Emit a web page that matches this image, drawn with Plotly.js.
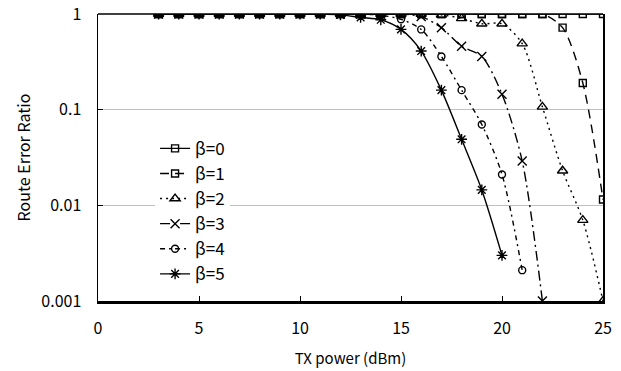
<!DOCTYPE html>
<html>
<head>
<meta charset="utf-8">
<script src="https://cdn.plot.ly/plotly-3.0.1.min.js"></script>
<style>html,body{margin:0;padding:0;background:#fff;}#chart{width:621px;height:371px;}</style>
</head>
<body>
<div id="chart"></div>
<script>
const txPower = [3,4,5,6,7,8,9,10,11,12,13,14,15,16,17,18,19,20,21,22,23,24,25];
const beta0 = [1,1,1,1,1,1,1,1,1,1,1,1,1,1,1,1,1,1,1,1,1,1,1];
const beta1 = [1,1,1,1,1,1,1,1,1,1,1,1,1,1,1,1,1,1,1,1,0.72,0.19,0.0115];
const beta2 = [1,1,1,1,1,1,1,1,1,1,1,1,1,1,0.98,0.9,0.79,0.79,0.49,0.107,0.023,0.007,0.001];
const beta3 = [1,1,1,1,1,1,1,1,1,1,1,1,1,0.94,0.72,0.46,0.36,0.145,0.029,0.001];
const beta4 = [1,1,1,1,1,1,1,1,1,1,1,0.97,0.88,0.69,0.36,0.16,0.07,0.021,0.0021];
const beta5 = [1,1,1,1,1,1,1,1,1,0.98,0.92,0.87,0.69,0.41,0.16,0.049,0.0145,0.003];
const seriesNames = ['β=0','β=1','β=2','β=3','β=4','β=5'];
const yTickVals = [0.001,0.01,0.1,1];
const yTickText = ['0.001','0.01','0.1','1'];
const xTickVals = [0,5,10,15,20,25];

const FONT = '"Noto Sans CJK JP", "Noto Sans", sans-serif';
const series = [beta0,beta1,beta2,beta3,beta4,beta5];
const styles = [
  {dash:'solid', symbol:'square-open', size:7},
  {dash:'9px,6px', symbol:'square-open', size:7},
  {dash:'2px,4px', symbol:'triangle-up-open', size:9},
  {dash:'10px,4px,2px,4px', symbol:'x-thin-open', size:9},
  {dash:'5px,4px,2px,4px', symbol:'circle-open', size:7},
  {dash:'solid', symbol:'asterisk-open', size:9}
];
const traces = series.map((ys,i)=>({
  x: txPower.slice(0, ys.length),
  y: ys,
  name: seriesNames[i],
  legendgroup: 'g'+i,
  type: 'scatter',
  mode: 'lines+markers',
  line: {color:'#000', width:1.4, dash:styles[i].dash, shape:'spline', smoothing:0.8},
  marker: {symbol:styles[i].symbol, size:styles[i].size, color:'#000', line:{color:'#000', width:1.4}}
}));

const layout = {
  width:621, height:371,
  margin:{l:98, r:18, t:14, b:70},
  paper_bgcolor:'#fff', plot_bgcolor:'#fff',
  font:{family:FONT, color:'#000', size:16},
  showlegend:true,
  legend:{x:0.113, y:0.593, xanchor:'left', yanchor:'top', bgcolor:'#fff',
          font:{family:FONT, size:17, color:'#000'}, tracegroupgap:8, traceorder:'normal'},
  xaxis:{range:[0,25], tickvals:xTickVals, ticks:'inside', ticklen:5, tickcolor:'#000',
         showline:true, linecolor:'#000', linewidth:2.5, showgrid:false, zeroline:false,
         tickfont:{family:FONT, size:16}, ticklabelstandoff:11,
         title:{text:'TX power (dBm)', font:{family:FONT, size:15}, standoff:16}},
  yaxis:{type:'log', range:[-3,0], tickvals:yTickVals, ticktext:yTickText, ticks:'inside', ticklen:5,
         tickcolor:'#000', showline:true, linecolor:'#000', linewidth:1.5, mirror:true,
         showgrid:true, gridcolor:'#c0c0c0', gridwidth:1, zeroline:false,
         tickfont:{family:FONT, size:16}, ticklabelstandoff:12,
         title:{text:'Route Error Ratio', font:{family:FONT, size:16}, standoff:6}},
  shapes:[{type:'line', xref:'paper', yref:'paper', x0:0, x1:1, y0:1, y1:1, line:{color:'#000', width:1.5}}]
};
Plotly.newPlot('chart', traces, layout, {staticPlot:true, displayModeBar:false});
</script>
</body>
</html>
